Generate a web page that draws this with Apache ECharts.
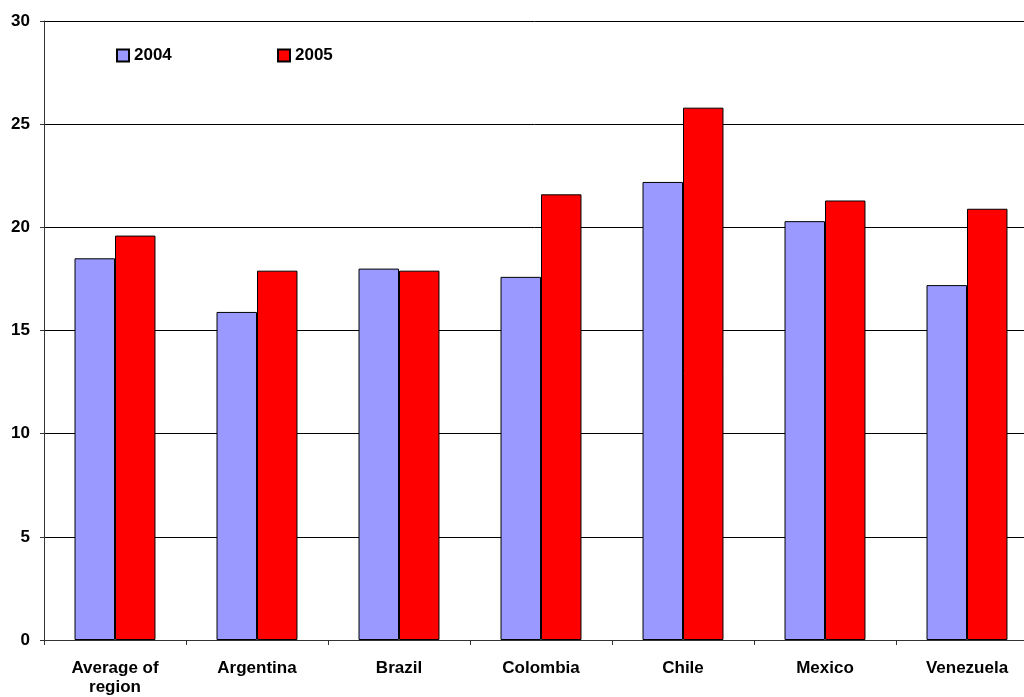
<!DOCTYPE html>
<html><head><meta charset="utf-8">
<script src="https://cdn.jsdelivr.net/npm/echarts@6/dist/echarts.min.js"></script>
<style>html,body{margin:0;padding:0;background:#fff}#c{width:1024px;height:697px}</style>
</head><body><div id="c"></div>
<script>
const categories = ["Average of\nregion","Argentina","Brazil","Colombia","Chile","Mexico","Venezuela"];
const values2004 = [18.5,15.9,18.0,17.6,22.2,20.3,17.2];
const values2005 = [19.6,17.9,17.9,21.6,25.8,21.3,20.9];
const yTicks = [0,5,10,15,20,25,30];

const font = 'Arial, "Liberation Sans", sans-serif';
const chart = echarts.init(document.getElementById('c'));
chart.setOption({
  animation:false,
  backgroundColor:'#fff',
  grid:{left:44,width:994,top:21,bottom:57,containLabel:false,outerBoundsMode:'none'},
  legend:[
    {data:['2004'],left:116,top:47,padding:0,itemWidth:12,itemHeight:12,icon:'rect',
     textStyle:{fontFamily:font,fontWeight:'bold',fontSize:17,color:'#000'}},
    {data:['2005'],left:277,top:47,padding:0,itemWidth:12,itemHeight:12,icon:'rect',
     textStyle:{fontFamily:font,fontWeight:'bold',fontSize:17,color:'#000'}}
  ],
  xAxis:{type:'category',data:categories,
    axisLine:{lineStyle:{color:'#333',width:1}},
    axisTick:{show:true,length:5,alignWithLabel:false,lineStyle:{color:'#333'}},
    axisLabel:{fontFamily:font,fontWeight:'bold',fontSize:17,color:'#000',margin:19,lineHeight:19,interval:0},
    splitLine:{show:false}},
  yAxis:{type:'value',min:yTicks[0],max:yTicks[yTicks.length-1],interval:5,
    axisLine:{show:true,lineStyle:{color:'#333',width:1}},
    axisTick:{show:true,length:4,lineStyle:{color:'#333'}},
    axisLabel:{fontFamily:font,fontWeight:'bold',fontSize:17,color:'#000',margin:14},
    splitLine:{show:true,lineStyle:{color:'#000',width:1}}},
  series:[
    {name:'2004',type:'bar',data:values2004,barGap:'0%',barCategoryGap:'43%',
     itemStyle:{color:'#9999ff',borderColor:'#000',borderWidth:1}},
    {name:'2005',type:'bar',data:values2005,barGap:'0%',barCategoryGap:'43%',
     itemStyle:{color:'#ff0000',borderColor:'#000',borderWidth:1}}
  ]
});
</script></body></html>
